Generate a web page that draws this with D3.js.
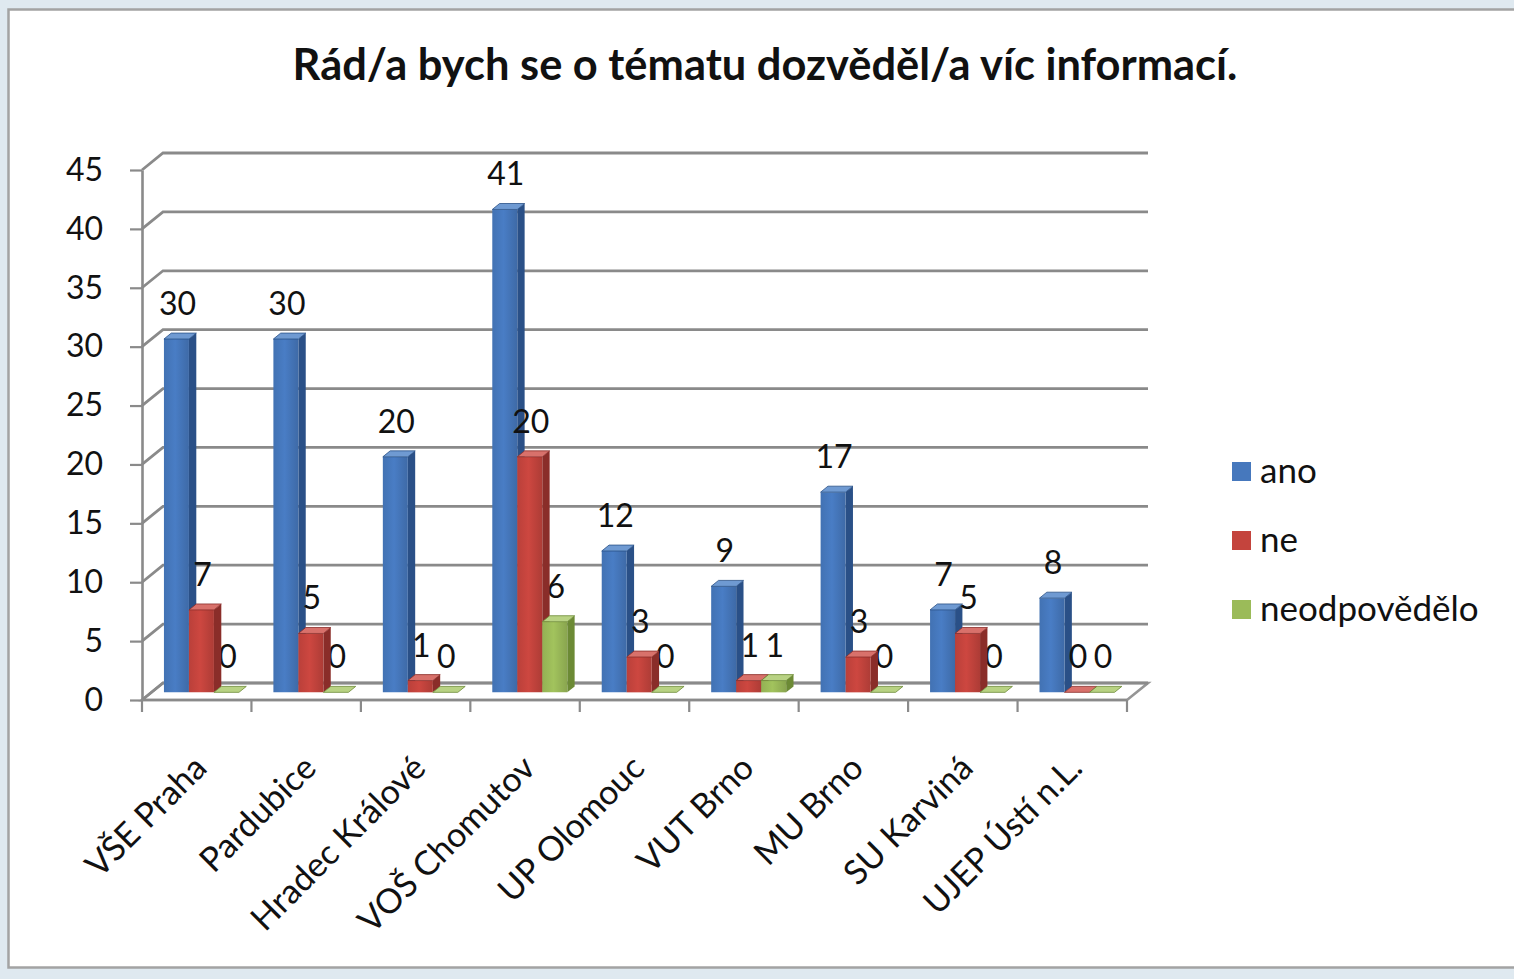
<!DOCTYPE html>
<html>
<head>
<meta charset="utf-8">
<script src="https://cdn.jsdelivr.net/npm/d3@7"></script>
<style>
  html, body { margin: 0; padding: 0; background: #dfe9f0; }
  svg { display: block; }
  text { font-family: Lato, "Open Sans", sans-serif; fill: #111; }
</style>
</head>
<body>
<svg id="chart" width="1514" height="979"></svg>
<script>
// Survey answers per school
const categories = ["VŠE Praha", "Pardubice", "Hradec Králové", "VOŠ Chomutov", "UP Olomouc",
                    "VUT Brno", "MU Brno", "SU Karviná", "UJEP Ústí n.L."];
const seriesNames = ["ano", "ne", "neodpovědělo"];
const ano          = [30, 30, 20, 41, 12, 9, 17, 7, 8];
const ne           = [7, 5, 1, 20, 3, 1, 3, 5, 0];
const neodpovedelo = [0, 0, 0, 6, 0, 1, 0, 0, 0];
const yTicks = [0, 5, 10, 15, 20, 25, 30, 35, 40, 45];
const titleText = "Rád/a bych se o tématu dozvěděl/a víc informací.";

const seriesValues = [ano, ne, neodpovedelo];
const colors = [
  { front: "#4678bd", side: "#2a5087", top: "#6f9ad2" },
  { front: "#c4443d", side: "#8a2d29", top: "#d8716b" },
  { front: "#9bbb59", side: "#6c8a35", top: "#b8d283" }
];

const svg = d3.select("#chart");

// chart frame
svg.append("rect")
  .attr("x", 8.5).attr("y", 9.5).attr("width", 1530).attr("height", 958)
  .attr("fill", "#ffffff").attr("stroke", "#a3a3a3").attr("stroke-width", 2.5);

// scales
const y = d3.scaleLinear().domain([0, 45]).range([700, 170]);
const x = d3.scaleBand().domain(categories).range([142, 1127]).padding(0);
const xs = d3.scaleBand().domain(seriesNames).range([12.5, 87.5]).padding(0);

// depth of the 3D box (back wall offset)
const D = { dx: 21, dy: -17 };
const proj = (px, v, f) => [px + D.dx * f, y(v) + D.dy * f];
const pts = arr => arr.map(p => p.join(",")).join(" ");

const x0 = x.range()[0], x1 = x.range()[1];
const grid = svg.append("g");

// floor
grid.append("polygon")
  .attr("points", pts([proj(x0, 0, 0), proj(x1, 0, 0), proj(x1, 0, 1), proj(x0, 0, 1)]))
  .attr("fill", "#ffffff").attr("stroke", "#959595").attr("stroke-width", 2.6);

// gridlines along side wall and back wall
grid.selectAll("polyline.grid").data(yTicks).join("polyline")
  .attr("class", "grid")
  .attr("points", v => pts([proj(x0, v, 0), proj(x0, v, 1), proj(x1, v, 1)]))
  .attr("fill", "none").attr("stroke", "#8a8a8a").attr("stroke-width", 2.8);

// y axis
const yAxis = d3.axisLeft(y).tickValues(yTicks).tickSize(12).tickSizeOuter(0).tickPadding(27);
const ya = svg.append("g").attr("transform", `translate(${x0},0)`).call(yAxis);
ya.select(".domain").attr("stroke", "#8a8a8a").attr("stroke-width", 2.6);
ya.selectAll(".tick line").attr("stroke", "#8a8a8a").attr("stroke-width", 2.2);
ya.selectAll(".tick text").attr("font-size", 32).attr("font-family", "Lato").attr("fill", "#111");

// x axis ticks at category boundaries
const bounds = categories.map(c => x(c)).concat([x1]);
svg.append("g").selectAll("line").data(bounds).join("line")
  .attr("x1", d => d).attr("x2", d => d)
  .attr("y1", y(0)).attr("y2", y(0) + 12)
  .attr("stroke", "#8a8a8a").attr("stroke-width", 2.2);
svg.append("line")
  .attr("x1", x0).attr("x2", x1).attr("y1", y(0)).attr("y2", y(0))
  .attr("stroke", "#8a8a8a").attr("stroke-width", 2.6);

// category labels
svg.append("g").selectAll("text").data(categories).join("text")
  .attr("transform", c => `translate(${x(c) + x.bandwidth() / 2 + 12},770) rotate(-45)`)
  .attr("text-anchor", "end")
  .attr("font-size", 34)
  .text(c => c);

// bars: front face at depth f1, back at f2
const f1 = 0.45, f2 = 0.8;
const bw = xs.bandwidth();
const barLayer = svg.append("g");

function drawBar(g, ci, si) {
  const v = seriesValues[si][ci];
  const bx0 = x(categories[ci]) + xs(seriesNames[si]);
  const bx1 = bx0 + bw;
  const c = colors[si];
  const gg = g.append("g");
  gg.append("polygon")
    .attr("points", pts([proj(bx1, 0, f1), proj(bx1, 0, f2), proj(bx1, v, f2), proj(bx1, v, f1)]))
    .attr("fill", c.side);
  gg.append("polygon")
    .attr("points", pts([proj(bx0, 0, f1), proj(bx1, 0, f1), proj(bx1, v, f1), proj(bx0, v, f1)]))
    .attr("fill", `url(#grad${si})`);
  gg.append("polygon")
    .attr("points", pts([proj(bx0, v, f1), proj(bx1, v, f1), proj(bx1, v, f2), proj(bx0, v, f2)]))
    .attr("fill", c.top).attr("stroke", c.side).attr("stroke-width", 0.8);
}

function drawLabel(g, ci, si) {
  const v = seriesValues[si][ci];
  const bx0 = x(categories[ci]) + xs(seriesNames[si]);
  const p = proj(bx0 + bw / 2, v, f1);
  g.append("text")
    .attr("x", p[0] + 1).attr("y", p[1] - 24)
    .attr("text-anchor", "middle")
    .attr("font-size", 32)
    .text(v);
}

// front face gradients
const defs = svg.append("defs");
colors.forEach((c, i) => {
  const g = defs.append("linearGradient").attr("id", `grad${i}`)
    .attr("x1", "0").attr("x2", "1").attr("y1", "0").attr("y2", "0");
  g.append("stop").attr("offset", "0").attr("stop-color", d3.color(c.front).darker(0.15));
  g.append("stop").attr("offset", "0.45").attr("stop-color", d3.color(c.front).brighter(0.12));
  g.append("stop").attr("offset", "1").attr("stop-color", d3.color(c.front).darker(0.35));
});

categories.forEach((c, ci) => {
  drawBar(barLayer, ci, 0);
  seriesNames.forEach((s, si) => drawLabel(barLayer, ci, si));
  drawBar(barLayer, ci, 1);
  drawBar(barLayer, ci, 2);
});

// title
const title = svg.append("text")
  .attr("x", 765).attr("y", 80)
  .attr("text-anchor", "middle")
  .attr("font-size", 36).attr("font-weight", 700)
  .text(titleText);
const tw = title.node().getComputedTextLength();
title.attr("font-size", 36 * 945 / tw);

// legend
const legend = svg.append("g");
const legendY = [472, 541, 610];
seriesNames.forEach((s, i) => {
  legend.append("rect")
    .attr("x", 1232).attr("y", legendY[i] - 10).attr("width", 19).attr("height", 19)
    .attr("fill", colors[i].front);
  legend.append("text")
    .attr("x", 1260).attr("y", legendY[i] + 11)
    .attr("font-size", 35)
    .text(s);
});
</script>
</body>
</html>
